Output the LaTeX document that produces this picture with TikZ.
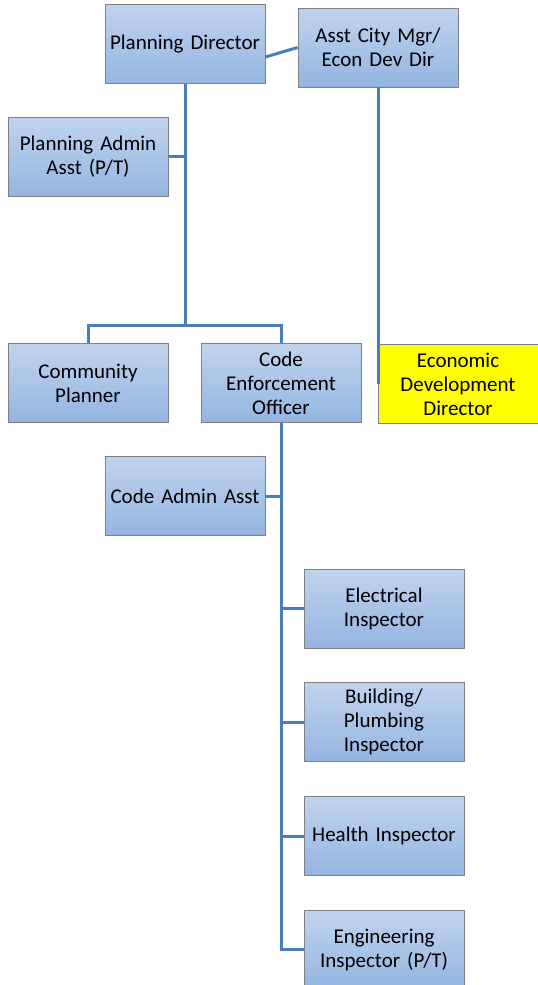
\documentclass[tikz,border=0pt]{standalone}
\usepackage{fontspec}
\setmainfont{Carlito}
\usepackage{xcolor}
\usepackage{tikz}
\usetikzlibrary{positioning, calc}
\definecolor{linkblue}{RGB}{74, 126, 187}
\definecolor{boxtop}{RGB}{192, 211, 237}
\definecolor{boxbottom}{RGB}{148, 181, 225}
\definecolor{boxedge}{RGB}{128, 128, 128}

\begin{document}
\begin{tikzpicture}[
  x=1pt, y=-1pt,
  node distance=34pt and 2.0cm,
  every node/.style={font=\fontsize{21}{24}\selectfont},
  box/.style={draw=boxedge, line width=0.8pt, top color=boxtop, bottom color=boxbottom, minimum width=160pt, minimum height=79pt, text width=156pt, align=center, inner sep=2pt},
  hilite/.style={box, top color=yellow, bottom color=yellow},
  link/.style={draw=linkblue, line width=3pt}
]
  \useasboundingbox (0,0) rectangle (538,985);

  % top level
  \node[box] (pd) at (185,44) {Planning Director};
  \node[box] (acm) at (378,47.5) {Asst City Mgr/\\Econ Dev Dir};
  \node[box] (paa) at (88,156.5) {Planning Admin\\Asst (P/T)};

  % second level
  \node[box] (cp) at (88,383) {Community\\Planner};
  \node[box] (ceo) at (281,383) {Code\\Enforcement\\Officer};
  \node[hilite] (edd) at (458,384) {Economic\\Development\\Director};

  % code enforcement staff
  \node[box] (caa) at (185,496) {Code Admin Asst};
  \node[box] (ei) at (384,608.5) {Electrical\\Inspector};
  \node[box, below=of ei] (bpi) {Building/\\Plumbing\\Inspector};
  \node[box, below=of bpi] (hi) {Health Inspector};
  \node[box, below=of hi] (eni) {Engineering\\Inspector (P/T)};

  \coordinate (split) at (185,325);

  \draw[link] ([yshift=-13pt]pd.east) -- (acm.west);
  \draw[link] (pd.south) -- (split);
  \draw[link] (paa.east) -- (paa.east -| pd.south);
  \draw[link] (cp.north) -- (cp.north |- split) -- (ceo.north |- split) -- (ceo.north);
  \draw[link] (acm.south) -- (acm.south |- edd.west);
  \draw[link] (ceo.south) -- (ceo.south |- eni.west) -- (eni.west);
  \draw[link] (caa.east) -- (caa.east -| ceo.south);
  \foreach \n in {ei, bpi, hi}
    \draw[link] (\n.west) -- (\n.west -| ceo.south);
\end{tikzpicture}
\end{document}
